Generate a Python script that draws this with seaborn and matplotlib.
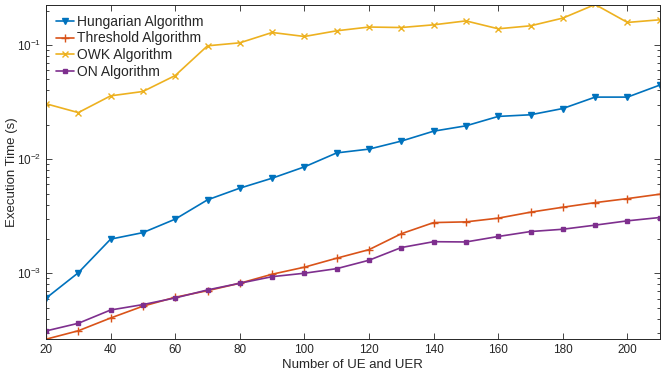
import numpy as np
import pandas as pd
import seaborn as sns
import matplotlib
matplotlib.use("Agg")
import matplotlib.pyplot as plt
from matplotlib.ticker import LogLocator, NullFormatter

# ---------------- data ----------------
n_users = [20, 30, 40, 50, 60, 70, 80, 90, 100, 110, 120, 130, 140, 150, 160, 170, 180, 190, 200, 210]

hungarian = [6.04e-4, 1.01e-3, 1.99e-3, 2.27e-3, 2.98e-3, 4.40e-3, 5.57e-3, 6.81e-3, 8.56e-3, 1.135e-2,
             1.225e-2, 1.44e-2, 1.76e-2, 1.96e-2, 2.37e-2, 2.45e-2, 2.78e-2, 3.50e-2, 3.50e-2, 4.46e-2]
threshold = [2.64e-4, 3.13e-4, 4.05e-4, 5.14e-4, 6.16e-4, 7.03e-4, 8.17e-4, 9.80e-4, 1.13e-3, 1.355e-3,
             1.61e-3, 2.22e-3, 2.78e-3, 2.82e-3, 3.04e-3, 3.43e-3, 3.79e-3, 4.16e-3, 4.51e-3, 4.93e-3]
owk = [3.06e-2, 2.56e-2, 3.59e-2, 3.92e-2, 5.41e-2, 9.86e-2, 0.1047, 0.129, 0.119, 0.1335,
       0.144, 0.1426, 0.1506, 0.163, 0.139, 0.1476, 0.1725, 0.227, 0.158, 0.1667]
on_alg = [3.12e-4, 3.64e-4, 4.76e-4, 5.31e-4, 6.07e-4, 7.14e-4, 8.17e-4, 9.33e-4, 1.0e-3, 1.097e-3,
          1.30e-3, 1.68e-3, 1.89e-3, 1.88e-3, 2.10e-3, 2.32e-3, 2.43e-3, 2.64e-3, 2.88e-3, 3.08e-3]

series_names = ["Hungarian Algorithm", "Threshold Algorithm", "OWK Algorithm", "ON Algorithm"]
series_vals = [hungarian, threshold, owk, on_alg]

df = pd.concat([pd.DataFrame({"n": n_users, "t": v, "alg": name})
                for name, v in zip(series_names, series_vals)], ignore_index=True)

# ---------------- plot ----------------
sns.set_style("ticks")
plt.rcParams['font.family'] = ['Liberation Sans', 'DejaVu Sans']
plt.rcParams['mathtext.fontset'] = 'custom'
plt.rcParams['mathtext.rm'] = 'Liberation Sans'

colors = ['#0072BD', '#D95319', '#EDB120', '#7E2F8E']
markers = ['v', '+', 'x', 's']
msizes = [4.5, 6, 5, 3.5]

fig = plt.figure(figsize=(6.61, 3.79), dpi=100)
ax = fig.add_axes([0.0696, 0.105, 0.9285, 0.882])

for name, c, m, ms in zip(series_names, colors, markers, msizes):
    sub = df[df["alg"] == name]
    sns.lineplot(data=sub, x="n", y="t", ax=ax, color=c, marker=m, markersize=ms,
                 markeredgecolor=c, markerfacecolor=c, markeredgewidth=1.0,
                 lw=1.2, label=name)

ax.set_yscale('log')
ax.set_xlim(20, 210)
ax.set_ylim(2.64e-4, 0.225)
ax.set_xticks(range(20, 201, 20))
ax.yaxis.set_major_locator(LogLocator(base=10, numticks=10))
ax.yaxis.set_minor_locator(LogLocator(base=10, subs=np.arange(2, 10), numticks=20))
ax.yaxis.set_minor_formatter(NullFormatter())

ax.tick_params(which='both', direction='in', top=True, right=True, labelsize=8.5,
               colors='#262626', width=0.6)
ax.tick_params(which='major', length=4)
ax.tick_params(which='minor', length=2.5)
for s in ax.spines.values():
    s.set_linewidth(0.7)
    s.set_color('#262626')

ax.set_xlabel("Number of UE and UER", fontsize=9.5, color='#262626', labelpad=2)
ax.set_ylabel("Execution Time (s)", fontsize=9.5, color='#262626', labelpad=-1)

leg = ax.legend(loc='upper left', frameon=False, fontsize=10, handlelength=1.3,
                handletextpad=0.2, labelspacing=0.2, borderaxespad=0.3,
                bbox_to_anchor=(0.0, 1.0))

fig.savefig("out.png", dpi=100)
